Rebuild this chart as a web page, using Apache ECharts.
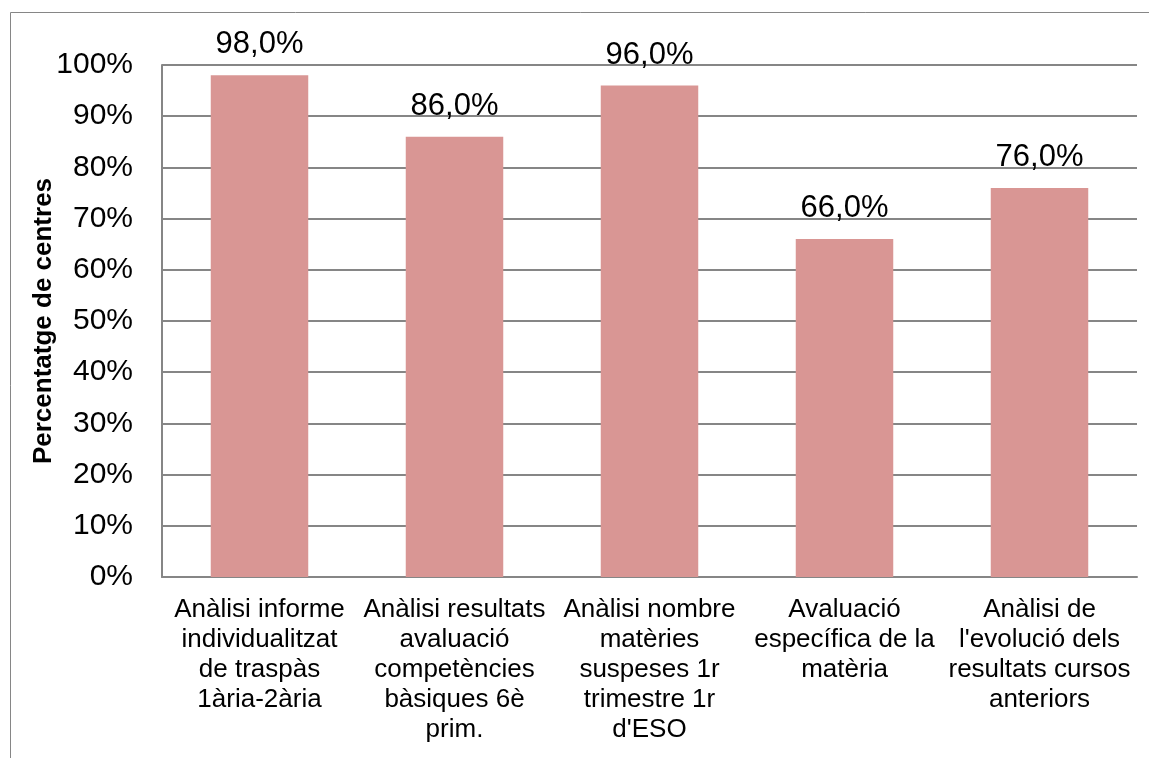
<!DOCTYPE html>
<html>
<head>
<meta charset="utf-8">
<script src="https://cdn.jsdelivr.net/npm/echarts@6/dist/echarts.min.js"></script>
<style>
  html, body { margin: 0; padding: 0; background: #fff; }
  #chart { width: 1149px; height: 758px; }
</style>
</head>
<body>
<div id="chart"></div>
<script>
const categories = [
  'Anàlisi informe\nindividualitzat\nde traspàs\n1ària-2ària',
  'Anàlisi resultats\navaluació\ncompetències\nbàsiques 6è\nprim.',
  'Anàlisi nombre\nmatèries\nsuspeses 1r\ntrimestre 1r\nd\'ESO',
  'Avaluació\nespecífica de la\nmatèria',
  'Anàlisi de\nl\'evolució dels\nresultats cursos\nanteriors'
]
const values = [98, 86, 96, 66, 76]
const axisName = 'Percentatge de centres'

const font = 'Liberation Sans, Arial, sans-serif'
const chart = echarts.init(document.getElementById('chart'))

chart.setOption({
  animation: false,
  textStyle: { fontFamily: font },
  // outer chart frame (cropped on the right and bottom)
  graphic: [{
    type: 'rect',
    shape: { x: 10.5, y: 12.5, width: 1200, height: 800 },
    style: { fill: 'none', stroke: '#868686', lineWidth: 1 },
    silent: true
  }],
  grid: { left: 162, right: 12, top: 65, bottom: 181 },
  xAxis: {
    type: 'category',
    data: categories,
    axisLine: { lineStyle: { color: '#868686', width: 2 } },
    axisTick: { show: false },
    axisLabel: {
      color: '#000', fontSize: 26, lineHeight: 30, margin: 18,
      fontFamily: font, interval: 0
    }
  },
  yAxis: {
    type: 'value',
    min: 0,
    max: 100,
    interval: 10,
    name: axisName,
    nameLocation: 'middle',
    nameGap: 105,
    nameMoveOverlap: false,
    nameTextStyle: { color: '#000', fontSize: 26, fontWeight: 'bold', fontFamily: font },
    axisLine: { show: true, lineStyle: { color: '#868686', width: 2 } },
    axisTick: { show: false },
    splitLine: { lineStyle: { color: '#868686', width: 2 } },
    axisLabel: {
      color: '#000', fontSize: 30, margin: 29, fontFamily: font,
      formatter: v => v + '%'
    }
  },
  series: [{
    type: 'bar',
    data: values,
    barWidth: '50%',
    itemStyle: { color: '#D99694' },
    label: {
      show: true,
      position: 'top',
      distance: 15,
      color: '#000',
      fontSize: 31,
      fontFamily: font,
      formatter: p => p.value.toFixed(1).replace('.', ',') + '%'
    }
  }]
})
</script>
</body>
</html>
